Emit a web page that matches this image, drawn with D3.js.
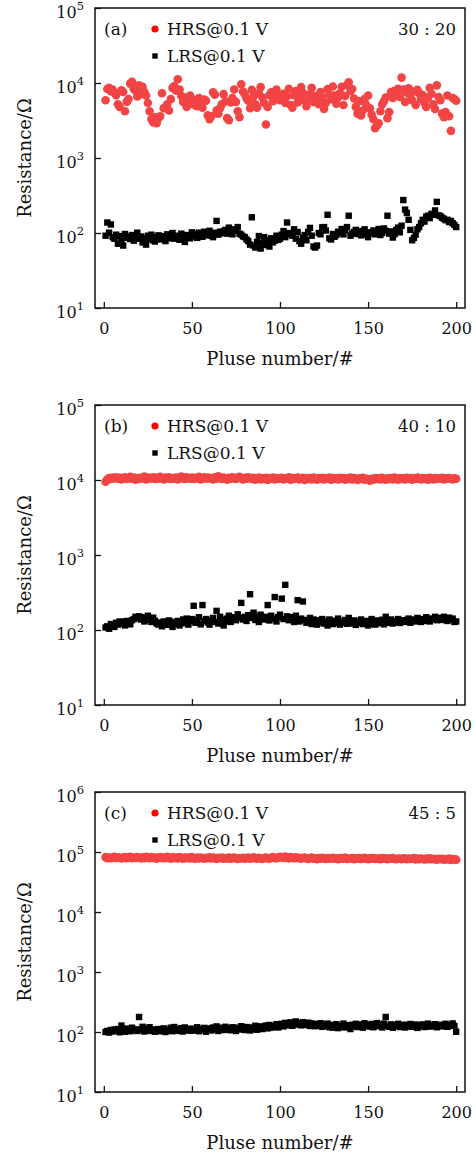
<!DOCTYPE html>
<html>
<head>
<meta charset="utf-8">
<script src="https://cdn.jsdelivr.net/npm/d3@7"></script>
<style>
  body { margin: 0; background: #fff; }
  text { font-family: "DejaVu Serif", serif; fill: #111; }
</style>
</head>
<body>
<div id="chart"></div>
<script>
// resistance (ohm) per pulse, pulses 1..200
const hrsA = [
  5900, 8300, 8600, 7800, 8200, 7400, 6900, 5200, 4800, 8000,
  7600, 4200, 5600, 6100, 9800, 10400, 8300, 7900, 6600, 9300,
  7100, 8900, 7600, 6800, 5400, 4200, 3300, 3000, 3500, 2900,
  3400, 3600, 7300, 4600, 4800, 5200, 4300, 6100, 8600, 9100,
  7900, 11200, 8200, 6700, 5600, 6400, 4800, 5600, 6800, 5300,
  5900, 5000, 4900, 6300, 5400, 4700, 6000, 5800, 3700, 3300,
  3600, 7500, 7000, 4300, 3900, 4600, 5200, 7100, 5700, 3400,
  3200, 5500, 6300, 8200, 5600, 4200, 3500, 9600, 7700, 7100,
  6200, 5800, 4600, 8100, 6600, 5200, 4700, 7300, 8800, 6400,
  5400, 2800, 4800, 6900, 7500, 5700, 6300, 8200, 6800, 5900,
  6100, 7200, 5400, 6600, 8400, 5100, 4700, 6900, 7800, 5500,
  6300, 8800, 7400, 5800, 4900, 6200, 7100, 8600, 5600, 6700,
  6000, 5200, 7600, 6500, 4500, 5400, 8300, 7000, 6100, 9000,
  6800, 5300, 6400, 7300, 8900, 5100, 6700, 9400, 10200, 7800,
  8300, 6200, 4800, 3900, 5700, 3700, 4300, 6100, 5100, 6800,
  4600, 3800, 3300, 2500, 2700, 2900, 4200, 5200, 5700, 6400,
  3400, 4100, 7600, 6300, 7900, 7200, 8400, 6500, 11800, 8200,
  5600, 7400, 8500, 6900, 5900, 7700, 5100, 8100, 7300, 6100,
  6900, 5400, 4800, 6300, 8600, 7200, 5200, 4500, 9300, 6500,
  5900, 3900, 3500, 4100, 6800, 3600, 2300, 6300, 6100, 5800
];
const lrsA = [
  92, 138, 101, 130, 88, 84, 95, 72, 91, 79,
  68, 97, 86, 90, 83, 94, 79, 88, 101, 84,
  90, 75, 86, 70, 92, 83, 95, 80, 77, 88,
  93, 82, 86, 91, 78, 96, 85, 89, 100, 84,
  92, 87, 81, 98, 88, 76, 94, 90, 85, 102,
  97, 90, 86, 101, 95, 89, 104, 93, 99, 107,
  92, 88, 101, 145, 95, 104, 99, 106, 110, 98,
  118, 103, 96, 112, 108, 120, 98, 95, 90, 88,
  82, 78, 70, 162, 68, 64, 76, 91, 62, 73,
  88, 69, 80, 66, 85, 75, 79, 92, 81, 84,
  95, 106, 88, 138, 100, 96, 92, 112, 84, 103,
  78, 72, 86, 94, 80, 103, 117, 92, 66, 64,
  68, 100, 96, 119, 120, 108, 175, 85, 82, 97,
  89, 94, 104, 100, 113, 96, 109, 120, 170, 92,
  98, 103, 110, 97, 106, 93, 101, 112, 95, 88,
  102, 99, 108, 96, 103, 113, 94, 100, 115, 107,
  170, 98, 105, 87, 96, 110, 118, 102, 125, 275,
  205, 185, 150, 110, 80, 86, 95, 112, 120, 135,
  150, 142, 165, 170, 158, 180, 175, 200, 260, 172,
  168, 160, 155, 148, 150, 140, 145, 135, 128, 120
];
const hrsB = [
  9500, 10200, 10600, 10300, 10800, 10500, 10900, 10400, 10700, 10200,
  10600, 10900, 10300, 10500, 11000, 10400, 10800, 10100, 10600, 10300,
  10700, 10500, 11100, 10200, 10800, 10400, 10600, 10900, 10300, 10700,
  10400, 11000, 10600, 10200, 10800, 10500, 10900, 10300, 10600, 10400,
  10800, 10200, 10700, 11100, 10500, 10300, 10900, 10600, 10400, 10800,
  10300, 10700, 10500, 11000, 10200, 10600, 10900, 10400, 10800, 10500,
  10600, 10200, 10900, 10400, 11200, 10700, 10300, 10800, 10500, 10100,
  10700, 10400, 10900, 10600, 10300, 10800, 11000, 10500, 10200, 10700,
  10400, 10900, 10600, 10300, 10700, 10100, 10500, 10800, 10200, 10600,
  10300, 10700, 10000, 10500, 10400, 10800, 10200, 10600, 10300, 10500,
  10700, 10200, 10500, 10400, 10900, 10100, 10600, 10300, 10500, 10800,
  10200, 10400, 10700, 10000, 10500, 10300, 10600, 10200, 10800, 10400,
  10100, 10600, 10300, 10700, 10200, 10500, 10400, 10800, 10100, 10600,
  10300, 10500, 10200, 10700, 10400, 10600, 10100, 10500, 10300, 10800,
  10200, 10600, 10400, 10000, 10500, 10300, 10700, 10100, 10400, 10200,
  9800, 10400, 10100, 10600, 10300, 10500, 10200, 10700, 10400, 10100,
  10500, 10300, 10600, 10200, 10800, 10400, 10100, 10600, 10300, 10500,
  10200, 10700, 10400, 10600, 10100, 10500, 10300, 10800, 10400, 10200,
  10600, 10300, 10500, 10100, 10700, 10400, 10200, 10600, 10300, 10500,
  10400, 10700, 10200, 10500, 10300, 10600, 10400, 10200, 10500, 10400
];
const lrsB = [
  108, 112, 104, 120, 116, 110, 125, 118, 130, 122,
  128, 115, 132, 124, 119, 135, 140, 150, 145, 152,
  138, 148, 130, 142, 155, 136, 128, 146, 133, 122,
  118, 126, 112, 130, 121, 117, 134, 124, 110, 128,
  120, 132, 115, 127, 138, 123, 142, 118, 131, 140,
  210, 125, 136, 148, 119, 215, 132, 140, 126, 118,
  135, 145, 128, 180, 122, 150, 138, 115, 130, 142,
  155, 128, 140, 148, 135, 162, 145, 230, 138, 150,
  132, 158, 300, 145, 170, 136, 152, 128, 160, 143,
  138, 150, 215, 134, 155, 142, 275, 130, 148, 160,
  262, 140, 400, 152, 135, 148, 138, 128, 155, 250,
  130, 142, 240, 136, 125, 132, 145, 120, 138, 128,
  118, 135, 126, 140, 122, 130, 115, 138, 127, 120,
  133, 124, 142, 118, 130, 126, 136, 121, 145, 128,
  122, 134, 117, 130, 125, 138, 120, 128, 132, 115,
  126, 140, 121, 118, 134, 128, 123, 137, 119, 150,
  130, 125, 138, 122, 132, 127, 140, 124, 135, 130,
  128, 136, 142, 125, 132, 138, 130, 145, 134, 128,
  140, 132, 148, 136, 130, 142, 138, 150, 135, 140,
  145, 136, 150, 140, 132, 146, 138, 142, 128, 130
];
const hrsC = [
  82000, 79000, 81000, 78500, 80500, 83000, 79500, 81500, 80000, 78000,
  81000, 82500, 79000, 80500, 83500, 78500, 81000, 79500, 82000, 80000,
  78000, 81500, 79000, 83000, 80500, 78500, 82000, 79500, 81000, 77500,
  80000, 82500, 78500, 81000, 79000, 83500, 80000, 77500, 81500, 79000,
  80500, 78000, 82000, 79500, 77000, 81000, 79000, 80500, 78000, 82500,
  79000, 77500, 80500, 78000, 81000, 79500, 77000, 80000, 78500, 81500,
  78000, 80500, 79000, 76500, 80000, 78500, 81000, 77500, 79500, 78000,
  80500, 77000, 79000, 81000, 78000, 76500, 79500, 78000, 80000, 77500,
  79000, 80500, 77000, 78500, 81500, 79000, 77500, 80000, 78500, 76500,
  79500, 81000, 78000, 77000, 80000, 82000, 79000, 78500, 80500, 83000,
  81000, 79500, 84000, 80500, 78000, 82500, 80000, 79000, 81500, 78500,
  80000, 77500, 79500, 81000, 78000, 76500, 79000, 80500, 77500, 78500,
  76000, 79000, 77500, 80000, 78000, 76500, 79500, 77000, 78500, 80000,
  77000, 78500, 76000, 79000, 77500, 78000, 80500, 76500, 78000, 77000,
  79500, 76000, 78500, 77000, 79000, 76500, 78000, 80000, 77500, 76000,
  78500, 77000, 79500, 76500, 78000, 77500, 75500, 79000, 77000, 78500,
  76000, 78000, 77000, 79500, 76500, 75500, 78000, 77000, 76000, 78500,
  77500, 75500, 78000, 76500, 77000, 79000, 75000, 77500, 76000, 78000,
  76500, 75000, 77500, 76000, 78500, 75500, 77000, 76000, 74500, 77000,
  75500, 77000, 74500, 76500, 75000, 77500, 74000, 76000, 75500, 74500
];
const lrsC = [
  100, 104, 98, 108, 102, 110, 106, 112, 99, 128,
  105, 101, 114, 108, 103, 118, 107, 111, 104, 178,
  109, 122, 102, 113, 106, 120, 104, 110, 101, 108,
  112, 103, 107, 115, 100, 109, 105, 118, 103, 121,
  107, 111, 104, 116, 102, 119, 108, 113, 105, 110,
  114, 106, 120, 103, 112, 108, 117, 101, 115, 109,
  106, 119, 111, 124, 104, 113, 118, 108, 122, 110,
  115, 107, 120, 112, 104, 118, 110, 125, 113, 108,
  121, 114, 106, 119, 111, 127, 109, 116, 124, 112,
  120, 128, 115, 131, 118, 126, 122, 135, 119, 130,
  137, 124, 142, 129, 134, 145, 127, 138, 150, 133,
  141, 129, 146, 136, 131, 143, 126, 139, 132, 125,
  136, 128, 140, 122, 133, 127, 138, 120, 131, 118,
  129, 135, 116, 127, 122, 138, 119, 130, 124, 112,
  132, 125, 137, 121, 128, 134, 118, 140, 126, 131,
  123, 136, 120, 129, 141, 125, 133, 119, 138, 178,
  127, 122, 134, 118, 130, 125, 137, 121, 128, 132,
  119, 131, 124, 136, 122, 128, 133, 117, 129, 125,
  134, 121, 127, 138, 123, 130, 126, 135, 120, 128,
  132, 124, 129, 137, 122, 131, 127, 139, 126, 101
];

const xTicks = [0, 50, 100, 150, 200];
const panelLabels = ["(a)", "(b)", "(c)"];
const ratios = ["30 : 20", "40 : 10", "45 : 5"];
const yExponents = [[1, 2, 3, 4, 5], [1, 2, 3, 4, 5], [1, 2, 3, 4, 5, 6]];
const hrsName = "HRS@0.1 V", lrsName = "LRS@0.1 V";

const hrsSets = [hrsA, hrsB, hrsC];
const lrsSets = [lrsA, lrsB, lrsC];
const panelTops = [8, 405, 792];

const W = 476, H = 1157;
const left = 95, right = 465, plotH = 300;
const red = "#f24444";

const svg = d3.select("#chart").append("svg")
  .attr("width", W).attr("height", H);

panelTops.forEach((top, p) => {
  const bottom = top + plotH;
  const exps = yExponents[p];
  const x = d3.scaleLinear().domain([-5, 205]).range([left, right]);
  const y = d3.scaleLog().domain([10 ** exps[0], 10 ** exps[exps.length - 1]]).range([bottom, top]);

  const g = svg.append("g");

  // x axis (ticks point inward)
  const xa = g.append("g").attr("transform", `translate(0,${bottom})`)
    .call(d3.axisBottom(x).tickValues(xTicks).tickSize(-6).tickSizeOuter(0));
  xa.select(".domain").remove();
  xa.selectAll("line").attr("stroke", "#111").attr("stroke-width", 1.3);
  xa.selectAll("text").attr("y", 26).attr("dy", 0)
    .attr("font-size", 16).attr("font-family", "DejaVu Serif").attr("fill", "#111");

  // y axis
  const ya = g.append("g").attr("transform", `translate(${left},0)`)
    .call(d3.axisLeft(y).tickValues(exps.map(e => 10 ** e)).tickSize(-6).tickSizeOuter(0).tickFormat(""));
  ya.select(".domain").remove();
  ya.selectAll("line").attr("stroke", "#111").attr("stroke-width", 1.3);

  const yl = g.append("g").selectAll("text").data(exps).join("text")
    .attr("x", 84).attr("y", e => y(10 ** e) + 10)
    .attr("text-anchor", "end").attr("font-size", 16);
  yl.append("tspan").text("10");
  yl.append("tspan").attr("dy", -8).attr("font-size", 11.5).text(e => e);

  // points
  g.append("g").selectAll("circle").data(hrsSets[p]).join("circle")
    .attr("cx", (d, i) => x(i + 1)).attr("cy", d => y(d))
    .attr("r", 4.3).attr("fill", red);

  g.append("g").selectAll("rect").data(lrsSets[p]).join("rect")
    .attr("x", (d, i) => x(i + 1) - 3.2).attr("y", d => y(d) - 3.2)
    .attr("width", 6.4).attr("height", 6.4).attr("fill", "#000");

  // frame
  g.append("rect").attr("x", left).attr("y", top)
    .attr("width", right - left).attr("height", plotH)
    .attr("fill", "none").attr("stroke", "#111").attr("stroke-width", 1.5);

  // legend and labels
  g.append("text").attr("x", 104).attr("y", top + 27).attr("font-size", 17).text(panelLabels[p]);
  g.append("text").attr("x", 456).attr("y", top + 27).attr("text-anchor", "end")
    .attr("font-size", 16.5).text(ratios[p]);
  g.append("circle").attr("cx", 155).attr("cy", top + 21).attr("r", 3.6).attr("fill", "#ff0000");
  g.append("text").attr("x", 167).attr("y", top + 27).attr("font-size", 17).text(hrsName);
  g.append("rect").attr("x", 152.3).attr("y", top + 45.3).attr("width", 5.4).attr("height", 5.4).attr("fill", "#000");
  g.append("text").attr("x", 167).attr("y", top + 54).attr("font-size", 17).text(lrsName);

  // axis titles
  g.append("text").attr("x", (left + right) / 2).attr("y", bottom + 57)
    .attr("text-anchor", "middle").attr("font-size", 18).text("Pluse number/#");
  g.append("text").attr("transform", `translate(31,${top + plotH / 2}) rotate(-90)`)
    .attr("text-anchor", "middle").attr("font-size", 18).text("Resistance/Ω");
});
</script>
</body>
</html>
